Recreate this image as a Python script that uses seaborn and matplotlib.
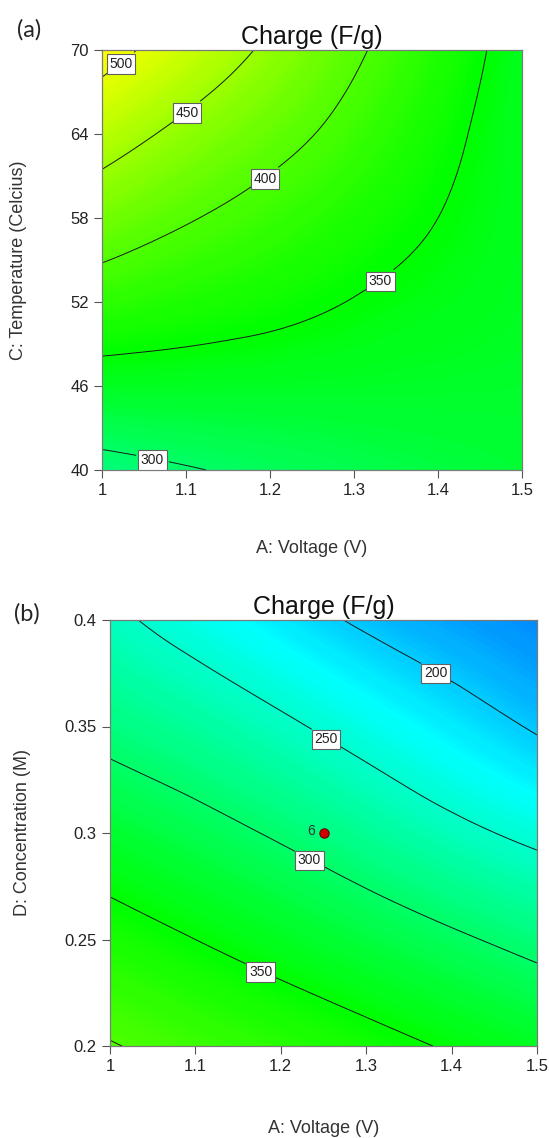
import numpy as np
import matplotlib
matplotlib.use("Agg")
import matplotlib.pyplot as plt
import matplotlib.tri as mtri
from matplotlib.colors import LinearSegmentedColormap, Normalize
import seaborn as sns

voltage = [1.0, 1.1, 1.2, 1.3, 1.4, 1.5]
temperature = [40, 46, 52, 58, 64, 70]
concentration = [0.2, 0.25, 0.3, 0.35, 0.4]

voltage_ticks = ["1", "1.1", "1.2", "1.3", "1.4", "1.5"]
temperature_ticks = ["40", "46", "52", "58", "64", "70"]
concentration_ticks = ["0.2", "0.25", "0.3", "0.35", "0.4"]

# Charge (F/g), panel (a): rows = temperature, cols = voltage
charge_a = [
    [289, 298, 306, 313, 319, 324],
    [334, 334, 333, 332, 331, 330],
    [379, 368, 359, 349, 341, 334],
    [424, 403, 385, 367, 350, 336],
    [469, 440, 414, 387, 359, 335],
    [515, 479, 443, 406, 370, 336],
]
levels_a = [300, 350, 400, 450, 500]
label_pos_a = [(1.062, 41.4), (1.337, 53.1), (1.194, 60.9), (1.10, 65.7), (1.02, 69.3)]

# Charge (F/g), panel (b): rows = concentration, cols = voltage
charge_b = [
    [402, 388, 375, 361, 347, 334],
    [365, 350, 335, 320, 305, 290],
    [327, 312, 296, 278, 259, 242],
    [289, 274, 256, 236, 216, 197],
    [257, 236, 215, 195, 180, 168],
]
levels_b = [200, 250, 300, 350, 400]
label_pos_b = [(1.3825, 0.3765), (1.255, 0.346), (1.236, 0.2897), (1.18, 0.2385)]

# design point shown in panel (b)
point_v = [1.25]
point_d = [0.3]
point_lbl = ["6"]

sns.set_style("ticks")
plt.rcParams["font.family"] = ["Liberation Sans", "DejaVu Sans"]

# Design-Expert style rainbow: blue -> cyan -> green -> yellow -> red
cmap = LinearSegmentedColormap.from_list(
    "dx", [(0.0, "#0000ff"), (0.208, "#00ffff"), (0.417, "#00ff00"),
           (0.69, "#ffff00"), (1.0, "#ff0000")])
norm = Normalize(vmin=100, vmax=700)

W, H = 549, 1138
fig = plt.figure(figsize=(W / 100, H / 100), dpi=100)


def px_axes(left, top, right, bottom):
    return fig.add_axes([left / W, 1 - bottom / H, (right - left) / W, (bottom - top) / H])


def contour_panel(ax, xs, ys, z, levels, label_pos):
    X, Y = np.meshgrid(xs, ys)
    zz = np.asarray(z, float).ravel()
    # work in unit square so the interpolator sees both axes equally
    xu = (X - xs[0]) / (xs[-1] - xs[0])
    yu = (Y - ys[0]) / (ys[-1] - ys[0])
    tri = mtri.Triangulation(xu.ravel(), yu.ravel())
    interp = mtri.CubicTriInterpolator(tri, zz, kind="min_E")
    refiner = mtri.UniformTriRefiner(tri)
    tri_f, z_f = refiner.refine_field(zz, triinterpolator=interp, subdiv=4)
    tri_f.x = xs[0] + tri_f.x * (xs[-1] - xs[0])
    tri_f.y = ys[0] + tri_f.y * (ys[-1] - ys[0])
    ax.tricontourf(tri_f, z_f, levels=np.linspace(100, 700, 301), cmap=cmap, norm=norm)
    cs = ax.tricontour(tri_f, z_f, levels=levels, colors="#1a1a1a", linewidths=0.7)
    lbls = ax.clabel(cs, fmt="%d", fontsize=10, inline=True, inline_spacing=5,
                     manual=label_pos)
    for t in lbls:
        t.set_rotation(0)
        t.set_color("#222222")
        t.set_verticalalignment("center_baseline")
        t.set_bbox(dict(boxstyle="square,pad=0.2", fc="white", ec="#606060", lw=0.8))
    ax.set_xlim(xs[0], xs[-1])
    ax.set_ylim(ys[0], ys[-1])
    ax.set_xticks(xs)
    ax.set_xticklabels(voltage_ticks)
    for s in ax.spines.values():
        s.set_color("#7a7a7a")
        s.set_linewidth(0.9)
    ax.tick_params(colors="#555555", labelcolor="#222222", labelsize=12, length=6, width=0.8)
    ax.set_title("Charge (F/g)", fontsize=18, pad=4, color="#111111")


ax1 = px_axes(102, 50, 522, 470)
contour_panel(ax1, voltage, temperature, charge_a, levels_a, label_pos_a)
ax1.set_yticks(temperature)
ax1.set_yticklabels(temperature_ticks)
ax1.set_xlabel("A: Voltage (V)", fontsize=13, labelpad=30, color="#333333")
ax1.set_ylabel("C: Temperature (Celcius)", fontsize=13, labelpad=31, color="#333333")

ax2 = px_axes(110, 620, 537, 1046)
contour_panel(ax2, voltage, concentration, charge_b, levels_b, label_pos_b)
ax2.set_yticks(concentration)
ax2.set_yticklabels(concentration_ticks)
ax2.set_xlabel("A: Voltage (V)", fontsize=13, labelpad=33, color="#333333")
ax2.set_ylabel("D: Concentration (M)", fontsize=13, labelpad=24, color="#333333")

sns.scatterplot(x=point_v, y=point_d, ax=ax2, color="#d00000", edgecolor="#700000",
                s=45, linewidth=0.8, zorder=5, legend=False)
for v, d, s in zip(point_v, point_d, point_lbl):
    ax2.annotate(s, (v, d), xytext=(-6, 1.5), textcoords="offset points",
                 ha="right", va="center", fontsize=10, color="#333333")

fig.text(29 / W, 1 - 30 / H, "(a)", fontsize=17, ha="center", va="center",
         family=["Lato", "DejaVu Sans"])
fig.text(27 / W, 1 - 614 / H, "(b)", fontsize=17, ha="center", va="center",
         family=["Lato", "DejaVu Sans"])

fig.savefig("out.png", dpi=100)
